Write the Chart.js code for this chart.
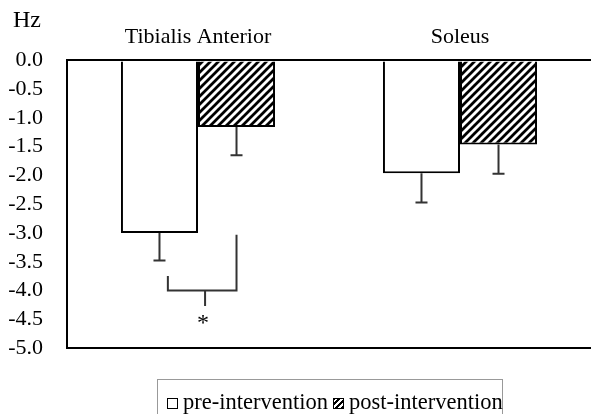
<!DOCTYPE html>
<html>
<head>
<meta charset="utf-8">
<script src="https://cdn.jsdelivr.net/npm/chart.js@4.4.0/dist/chart.umd.min.js"></script>
<style>
  html, body { margin: 0; padding: 0; background: #fff; }
  #wrap { position: relative; width: 591px; height: 414px; overflow: hidden; }
  #legend {
    position: absolute; left: 157px; top: 379px; width: 346px; height: 50px;
    border: 1px solid #999; box-sizing: border-box;
    font-family: 'Liberation Serif', serif; font-size: 22.5px; color: #000;
    white-space: nowrap; padding: 9px 0 0 9px;
  }
  #legend .box {
    display: inline-block; width: 11px; height: 11px; border: 1.5px solid #000;
    vertical-align: 0px; margin-right: 5px; box-sizing: border-box;
  }
  #legend .hatched {
    background: repeating-linear-gradient(-45deg, #000 0 2px, #fff 2px 4px);
  }
</style>
</head>
<body>
<div id="wrap">
  <canvas id="chart" width="591" height="414"></canvas>
  <div id="legend">
    <span class="box"></span>pre-intervention<span class="box hatched" style="margin-left:5px"></span>post-intervention
  </div>
</div>
<script>
const muscles = ['Tibialis Anterior', 'Soleus'];
const preValues = [-3.0, -1.96];
const postValues = [-1.16, -1.46];
const preErrors = [0.48, 0.51];
const postErrors = [0.49, 0.51];
const yTicks = [0, -0.5, -1, -1.5, -2, -2.5, -3, -3.5, -4, -4.5, -5];

// significance bracket under Tibialis Anterior (x in category units)
const bracketX = [-0.115, 0.147];
const bracketTop = [-3.75, -3.03];
const bracketY = -4.0;
const bracketMidX = 0.027;
const bracketTickEnd = -4.27;
const starPos = [0.019, -4.5];

const serif = "'Liberation Serif', 'Times New Roman', serif";

function hatch() {
  const s = 8;
  const c = document.createElement('canvas');
  c.width = s; c.height = s;
  const g = c.getContext('2d');
  g.fillStyle = '#fff';
  g.fillRect(0, 0, s, s);
  g.strokeStyle = '#000';
  g.lineWidth = 2.8;
  g.beginPath();
  g.moveTo(-1, s + 1); g.lineTo(s + 1, -1);
  g.moveTo(-1, 1); g.lineTo(1, -1);
  g.moveTo(s - 1, s + 1); g.lineTo(s + 1, s - 1);
  g.stroke();
  return g.createPattern(c, 'repeat');
}

const extras = {
  id: 'extras',
  afterDatasetsDraw(chart) {
    const ctx = chart.ctx;
    const x = chart.scales.x, y = chart.scales.y;
    const errs = [preErrors, postErrors];
    ctx.save();
    ctx.strokeStyle = '#333';
    ctx.lineWidth = 2;
    // error bars, downward only
    chart.data.datasets.forEach((ds, di) => {
      chart.getDatasetMeta(di).data.forEach((bar, i) => {
        const v = ds.data[i];
        const yEnd = y.getPixelForValue(v - errs[di][i]);
        ctx.beginPath();
        ctx.moveTo(bar.x, bar.y);
        ctx.lineTo(bar.x, yEnd);
        ctx.moveTo(bar.x - 6, yEnd);
        ctx.lineTo(bar.x + 6, yEnd);
        ctx.stroke();
      });
    });
    // bracket
    const xl = x.getPixelForValue(bracketX[0]);
    const xr = x.getPixelForValue(bracketX[1]);
    const yb = y.getPixelForValue(bracketY);
    const xm = x.getPixelForValue(bracketMidX);
    ctx.beginPath();
    ctx.moveTo(xl, y.getPixelForValue(bracketTop[0]));
    ctx.lineTo(xl, yb);
    ctx.lineTo(xr, yb);
    ctx.lineTo(xr, y.getPixelForValue(bracketTop[1]));
    ctx.moveTo(xm, yb);
    ctx.lineTo(xm, y.getPixelForValue(bracketTickEnd));
    ctx.stroke();
    ctx.fillStyle = '#000';
    ctx.font = '24px ' + serif;
    ctx.textAlign = 'center';
    ctx.textBaseline = 'middle';
    ctx.fillText('*', x.getPixelForValue(starPos[0]), y.getPixelForValue(starPos[1]) + 4);
    // unit label
    ctx.textAlign = 'left';
    ctx.fillText('Hz', 13, 21);
    ctx.restore();
  }
};

new Chart(document.getElementById('chart'), {
  type: 'bar',
  data: {
    labels: muscles,
    datasets: [
      {
        label: 'pre-intervention',
        data: preValues,
        backgroundColor: '#fff',
        borderColor: '#000',
        borderWidth: 2,
      },
      {
        label: 'post-intervention',
        data: postValues,
        backgroundColor: hatch(),
        borderColor: '#000',
        borderWidth: 2,
      },
    ],
  },
  options: {
    responsive: false,
    animation: false,
    layout: { padding: { top: 14, bottom: 66, left: 0, right: 0 } },
    categoryPercentage: 0.588,
    barPercentage: 1.0,
    plugins: {
      legend: { display: false },
      tooltip: { enabled: false },
    },
    scales: {
      x: {
        position: 'top',
        grid: { display: false, drawTicks: false },
        border: { display: true, color: '#000', width: 2 },
        ticks: { color: '#000', padding: 10, font: { family: serif, size: 22 } },
      },
      y: {
        min: -5,
        max: 0,
        afterFit(scale) { scale.width = 67; },
        afterBuildTicks(scale) { scale.ticks = yTicks.map(v => ({ value: v })); },
        grid: {
          drawTicks: false,
          color: (c) => (c.tick && c.tick.value === -5 ? '#000' : 'rgba(0,0,0,0)'),
          lineWidth: 2,
        },
        border: { display: true, color: '#000', width: 2 },
        ticks: {
          autoSkip: false,
          color: '#000',
          padding: 24,
          font: { family: serif, size: 22 },
          callback: (v) => (v === 0 ? '0.0' : Number(v).toFixed(1)),
        },
      },
    },
  },
  plugins: [extras],
});
</script>
</body>
</html>
